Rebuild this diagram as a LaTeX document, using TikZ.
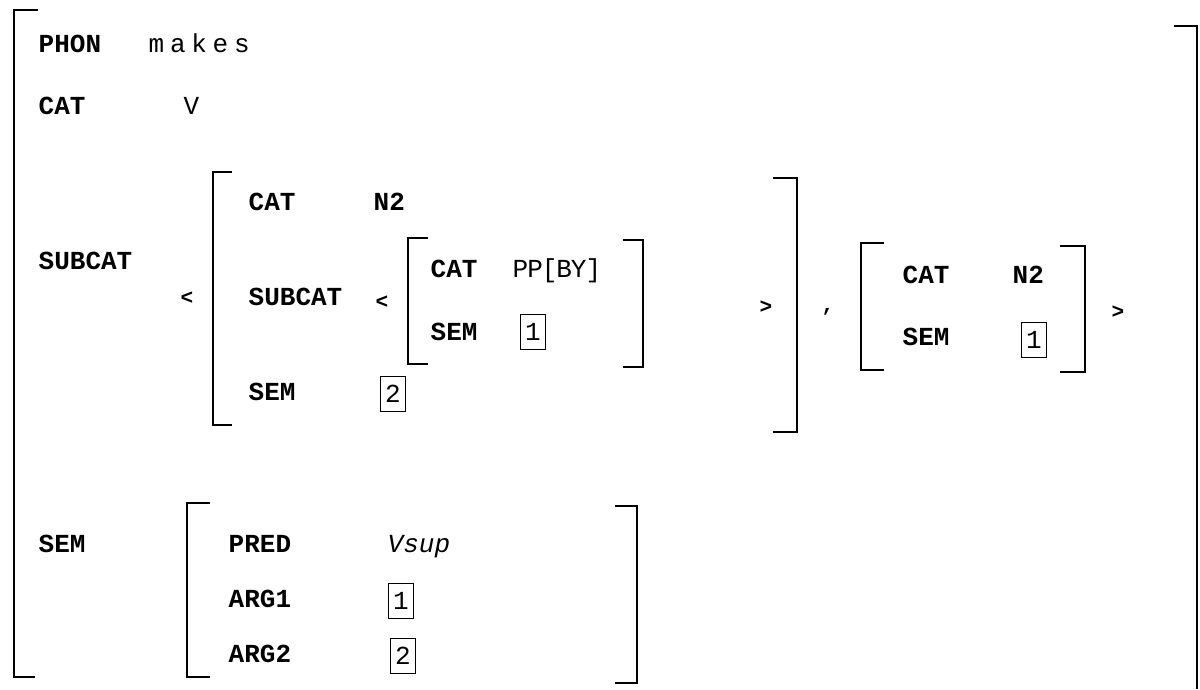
\documentclass[tikz,border=0pt]{standalone}
\usepackage{fontspec}
\setmonofont{Liberation Mono}
\usepackage{tikz}

\begin{document}
\begin{tikzpicture}[x=0.1mm, y=-0.1mm,
  feat/.style={anchor=base west, inner sep=0pt, font=\ttfamily\bfseries\fontsize{7.4}{9}\selectfont},
  val/.style={anchor=base west, inner sep=0pt, font=\ttfamily\fontsize{7.4}{9}\selectfont},
  sym/.style={inner sep=0pt, font=\ttfamily\bfseries\fontsize{6}{7}\selectfont},
  tag/.style={draw, line width=0.4pt, inner sep=0pt, minimum width=2.5mm, minimum height=3.5mm,
    font=\ttfamily\fontsize{7.4}{9}\selectfont},
  brak/.style={line width=0.6pt}]
\useasboundingbox (0,0) rectangle (1200,689);

% outer matrix
\draw[brak] (38,10) -- (14,10) -- (14,677) -- (35,677);
\draw[brak] (1174,26) -- (1197,26) -- (1197,689);
\node[feat] (phon) at (38,52) {PHON};
\node[val, font=\ttfamily\fontsize{7.4}{9}\selectfont\addfontfeatures{LetterSpace=22}] (phonval) at (148,52) {makes};
\node[feat] (cat) at (38,114) {CAT};
\node[val] (catval) at (183,114) {V};
\node[feat] (subcat) at (38,269) {SUBCAT};
\node[feat] (sem) at (38,552) {SEM};

% subcat list
\node[sym] (open) at (187,298) {<};
\draw[brak] (232,172) -- (213,172) -- (213,425) -- (232,425);
\draw[brak] (773,178) -- (797,178) -- (797,432) -- (773,432);
\node[feat] (catA) at (248,210) {CAT};
\node[feat] (catAval) at (373,210) {N2};
\node[feat] (subcatA) at (248,305) {SUBCAT};
\node[sym] (openA) at (382,302) {<};
\draw[brak] (428,238) -- (408,238) -- (408,364) -- (428,364);
\draw[brak] (623,240) -- (643,240) -- (643,367) -- (623,367);
\node[feat] (catB) at (430,277) {CAT};
\node[val, font=\ttfamily\fontsize{7.4}{9}\selectfont\addfontfeatures{LetterSpace=-4}] (catBval) at (512,277) {PP[BY]};
\node[feat] (semB) at (430,340) {SEM};
\node[tag] (tagB) at (533,332) {1};
\node[sym] (closeA) at (766,307) {>};
\node[feat] (semA) at (248,400) {SEM};
\node[tag] (tagA) at (393,394) {2};
\node[sym] (comma) at (828,312) {,};
\draw[brak] (884,243) -- (861,243) -- (861,370) -- (884,370);
\draw[brak] (1060,246) -- (1085,246) -- (1085,372) -- (1060,372);
\node[feat] (catC) at (902,283) {CAT};
\node[feat] (catCval) at (1012,283) {N2};
\node[feat] (semC) at (902,345) {SEM};
\node[tag] (tagC) at (1034,340) {1};
\node[sym] (close) at (1118,312) {>};

% sem value
\draw[brak] (210,503) -- (187,503) -- (187,677) -- (210,677);
\draw[brak] (615,506) -- (637,506) -- (637,683) -- (615,683);
\node[feat] (pred) at (228,552) {PRED};
\node[val, font=\ttfamily\itshape\fontsize{7.4}{9}\selectfont] (predval) at (387,552) {Vsup};
\node[feat] (arg1) at (228,607) {ARG1};
\node[tag] (arg1val) at (401,601) {1};
\node[feat] (arg2) at (228,662) {ARG2};
\node[tag] (arg2val) at (403,656) {2};
\end{tikzpicture}
\end{document}
